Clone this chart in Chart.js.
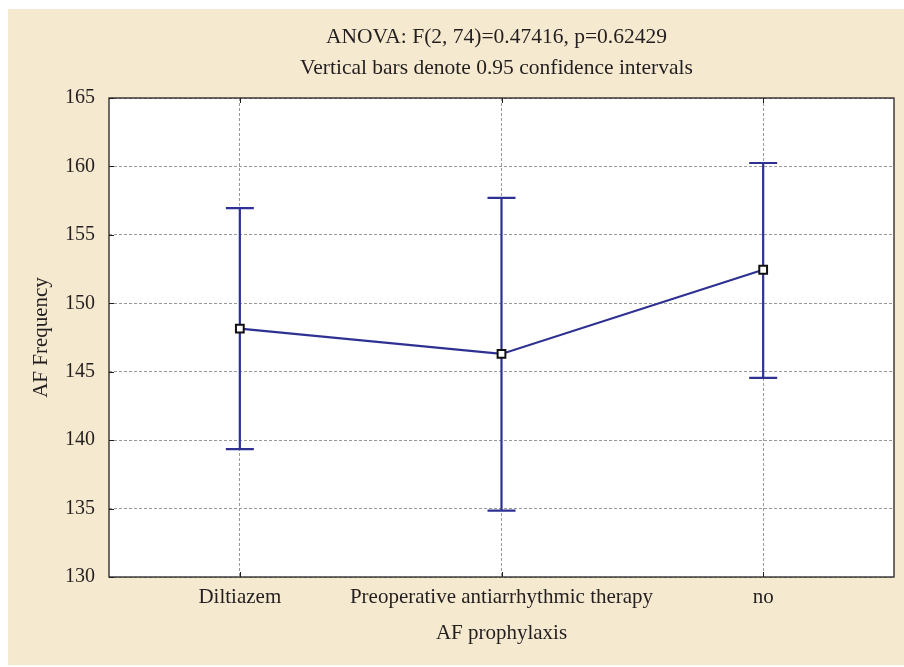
<!DOCTYPE html>
<html>
<head>
<meta charset="utf-8">
<script src="https://cdn.jsdelivr.net/npm/chart.js@4/dist/chart.umd.min.js"></script>
<style>
html,body{margin:0;padding:0;background:#fff;}
#wrap{width:904px;height:667px;position:relative;}
</style>
</head>
<body>
<div id="wrap"><canvas id="c" width="904" height="667"></canvas></div>
<script>
const categories = ['Diltiazem', 'Preoperative antiarrhythmic therapy', 'no'];
const means = [148.15, 146.3, 152.45];
const lowerCI = [139.35, 134.85, 144.55];
const upperCI = [156.95, 157.7, 160.25];
const yTicks = [130, 135, 140, 145, 150, 155, 160, 165];
const titleLines = ['ANOVA: F(2, 74)=0.47416, p=0.62429', 'Vertical bars denote 0.95 confidence intervals'];
const xTitle = 'AF prophylaxis';
const yTitle = 'AF Frequency';

const FONT = "'Liberation Serif', 'Times New Roman', serif";
const TXT = '#231f20';
const BLUE = '#2e3192';

const bgPlugin = {
  id: 'bg',
  beforeDraw(chart) {
    const ctx = chart.ctx;
    ctx.save();
    ctx.fillStyle = '#ffffff';
    ctx.fillRect(0, 0, chart.width, chart.height);
    ctx.fillStyle = '#f5e9cf';
    ctx.fillRect(8, 9, chart.width - 8, chart.height - 11);
    const a = chart.chartArea;
    ctx.fillStyle = '#ffffff';
    ctx.fillRect(a.left, a.top, a.right - a.left, a.bottom - a.top);
    // title lines, centred on the plot area
    ctx.fillStyle = TXT;
    ctx.font = "21.5px " + FONT;
    ctx.textAlign = 'center';
    ctx.textBaseline = 'middle';
    const cx = (a.left + a.right) / 2 - 5;
    titleLines.forEach((t, i) => ctx.fillText(t, cx, 37 + i * 31));
    ctx.restore();
  },
  beforeDatasetsDraw(chart) {
    const ctx = chart.ctx;
    const a = chart.chartArea;
    const xs = chart.scales.x, ys = chart.scales.y;
    ctx.save();
    ctx.strokeStyle = '#231f20';
    ctx.lineWidth = 1.3;
    ctx.strokeRect(a.left, a.top, a.right - a.left, a.bottom - a.top);
    ctx.lineWidth = 1;
    ctx.beginPath();
    ys.ticks.forEach((t, i) => {
      const y = Math.round(ys.getPixelForTick(i)) + 0.5;
      ctx.moveTo(a.left, y); ctx.lineTo(a.left + 5, y);
    });
    categories.forEach((c, i) => {
      const x = Math.round(xs.getPixelForValue(i)) + 0.5;
      ctx.moveTo(x, a.bottom); ctx.lineTo(x, a.bottom - 5);
      ctx.moveTo(x, a.top); ctx.lineTo(x, a.top + 5);
    });
    ctx.stroke();
    ctx.strokeStyle = BLUE;
    ctx.lineWidth = 2.2;
    categories.forEach((c, i) => {
      const x = xs.getPixelForValue(i);
      const yl = ys.getPixelForValue(lowerCI[i]);
      const yu = ys.getPixelForValue(upperCI[i]);
      ctx.beginPath();
      ctx.moveTo(x, yl); ctx.lineTo(x, yu);
      ctx.moveTo(x - 14, yl); ctx.lineTo(x + 14, yl);
      ctx.moveTo(x - 14, yu); ctx.lineTo(x + 14, yu);
      ctx.stroke();
    });
    ctx.restore();
  }
};

new Chart(document.getElementById('c'), {
  type: 'line',
  data: {
    labels: categories,
    datasets: [{
      data: means,
      borderColor: BLUE,
      borderWidth: 2.2,
      pointStyle: 'rect',
      pointRadius: 5.5,
      pointBorderWidth: 2,
      pointBorderColor: '#111',
      pointBackgroundColor: '#fff',
      tension: 0
    }]
  },
  plugins: [bgPlugin],
  options: {
    responsive: false,
    animation: false,
    events: [],
    layout: { padding: { left: 0, right: 10, top: 98, bottom: 0 } },
    plugins: {
      legend: { display: false },
      tooltip: { enabled: false },
      title: { display: false }
    },
    scales: {
      x: {
        type: 'category',
        offset: true,
        grid: { color: '#9a9a9a', lineWidth: 1, drawTicks: false },
        border: { display: false, dash: [3, 2] },
        ticks: { color: TXT, font: { family: FONT, size: 21 }, padding: 8, maxRotation: 0, autoSkip: false },
        title: { display: true, text: xTitle, color: TXT, font: { family: FONT, size: 21, lineHeight: 1.2 }, padding: { top: 0, bottom: 21 } },
        afterFit(s) { s.height = 90; }
      },
      y: {
        type: 'linear',
        min: 130, max: 165,
        afterBuildTicks(s) { s.ticks = yTicks.map(v => ({ value: v })); },
        grid: { color: '#9a9a9a', lineWidth: 1, drawTicks: false },
        border: { display: false, dash: [3, 2] },
        ticks: { color: TXT, font: { family: FONT, size: 20 }, padding: 14 },
        title: { display: true, text: yTitle, color: TXT, font: { family: FONT, size: 21, lineHeight: 1.2 }, padding: { top: 29, bottom: 0 } },
        afterFit(s) { s.width = 109; }
      }
    }
  }
});
</script>
</body>
</html>
